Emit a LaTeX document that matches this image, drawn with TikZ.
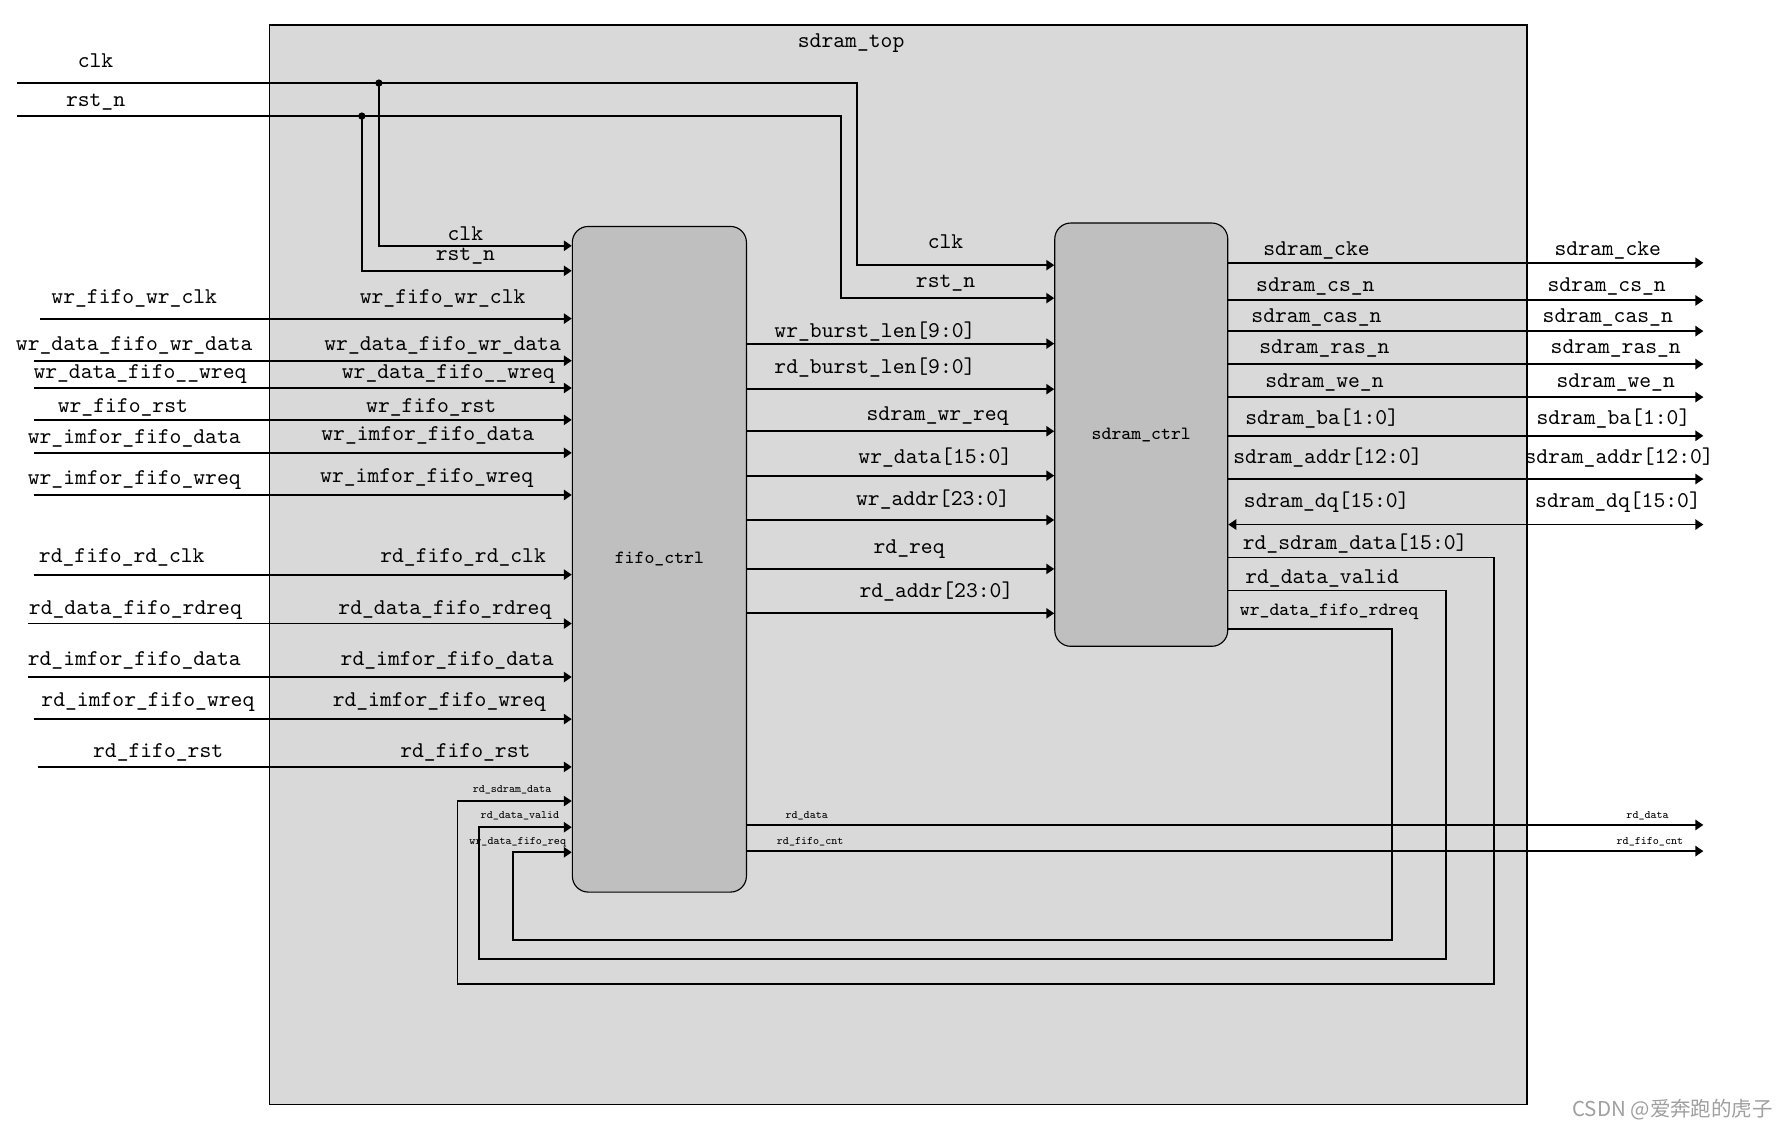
\documentclass[tikz,border=0pt]{standalone}
\usepackage{fontspec}
\newfontfamily\cjk{Noto Sans CJK SC}
\usetikzlibrary{arrows.meta}
\definecolor{topgray}{HTML}{D9D9D9}
\definecolor{blkgray}{HTML}{BFBFBF}
\begin{document}
\begin{tikzpicture}[
      x=0.5pt, y=-0.5pt,
      every node/.style={inner sep=0pt,font=\fontsize{9.9}{11}\selectfont\ttfamily},
      blk/.style={draw,line width=0.5pt,fill=blkgray,rounded corners=7pt},
      sig/.style={line width=0.8pt,-{Triangle[length=3.5pt,width=4.5pt]}},
      both/.style={line width=0.8pt,{Triangle[length=3.5pt,width=4.5pt]}-{Triangle[length=3.5pt,width=4.5pt]}},
      mid/.style={font=\fontsize{8.2}{9}\selectfont\ttfamily},
      tiny/.style={font=\fontsize{5}{6}\selectfont\ttfamily}
    ]
      \useasboundingbox (0,0) rectangle (1567,992);

      % Draw the boxes
      \node[draw,line width=0.5pt,fill=topgray,minimum width=552.5pt,minimum height=474.5pt] (top) at (789.5,496.5) {};
      \node (toplbl) at (748,38) {sdram\_top};
      \node[blk,mid,minimum width=76.5pt,minimum height=292.5pt] (fifo) at (579.5,491.5) {fifo\_ctrl};
      \node[blk,mid,minimum width=76pt,minimum height=186pt] (sdram) at (1003,382) {sdram\_ctrl};

      % Clock and reset
      \coordinate (clkin) at (15,73);
      \coordinate (clkdot) at (333,73);
      \coordinate (rstin) at (15,102);
      \coordinate (rstdot) at (318,102);
      \draw[sig] (clkin) -| (753,233) -- (sdram.west |- 0,233);
      \draw[sig] (clkdot) |- (fifo.west |- 0,216);
      \draw[sig] (rstin) -| (739,262) -- (sdram.west |- 0,262);
      \draw[sig] (rstdot) |- (fifo.west |- 0,238);
      \fill (clkdot) circle (1.6pt) (rstdot) circle (1.6pt);
      \node (clk0) at (84,53) {clk};
      \node (clk1) at (409,205) {clk};
      \node (clk2) at (831,212) {clk};
      \node (rst0) at (84,90) {rst\_n};
      \node (rst1) at (409,225) {rst\_n};
      \node (rst2) at (831,249) {rst\_n};

      % Inputs of fifo_ctrl
      \foreach \y/\xs/\lx/\ly/\ix/\iy/\txt [count=\i] in {
          280/35/118/262/389/262/wr\_fifo\_wr\_clk,
          317/30/118/304/389/304/wr\_data\_fifo\_wr\_data,
          341/30/123/329/394/329/wr\_data\_fifo\_\_wreq,
          369/30/108/358/379/358/wr\_fifo\_rst,
          398/30/118/385/376/383/wr\_imfor\_fifo\_data,
          435/30/118/422/375/420/wr\_imfor\_fifo\_wreq,
          505/30/107/490/407/490/rd\_fifo\_rd\_clk,
          548/25/119/536/391/536/rd\_data\_fifo\_rdreq,
          595/25/118/580/393/580/rd\_imfor\_fifo\_data,
          632/30/130/617/386/617/rd\_imfor\_fifo\_wreq,
          674/33/139/661/409/661/rd\_fifo\_rst}
      {
        \coordinate (in\i) at (\xs,\y);
        \draw[sig] (in\i) -- (fifo.west |- 0,\y);
        \node (inl\i) at (\lx,\ly) {\txt};
        \node (inr\i) at (\ix,\iy) {\txt};
      }

      % fifo_ctrl to sdram_ctrl
      \foreach \y/\lx/\ly/\txt [count=\i] in {
          302/769/291/wr\_burst\_len[9:0],
          342/769/323/rd\_burst\_len[9:0],
          379/824/366/sdram\_wr\_req,
          418/822/402/wr\_data[15:0],
          457/820/439/wr\_addr[23:0],
          500/799/483/rd\_req,
          539/823/520/rd\_addr[23:0]}
      {
        \draw[sig] (fifo.east |- 0,\y) -- (sdram.west |- 0,\y);
        \node (mid\i) at (\lx,\ly) {\txt};
      }

      % Outputs of sdram_ctrl
      \foreach \y/\lx/\rx/\ly/\txt [count=\i] in {
          231/1157/1413/220/sdram\_cke,
          264/1156/1412/252/sdram\_cs\_n,
          291/1157/1413/279/sdram\_cas\_n,
          320/1164/1420/306/sdram\_ras\_n,
          349/1164/1420/336/sdram\_we\_n,
          383/1162/1418/368/sdram\_ba[1:0],
          421/1167/1423/402/sdram\_addr[12:0]}
      {
        \coordinate (out\i) at (1497,\y);
        \draw[sig] (sdram.east |- 0,\y) -- (out\i);
        \node (outl\i) at (\lx,\ly) {\txt};
        \node (outr\i) at (\rx,\ly) {\txt};
      }
      \coordinate (dq) at (1497,461);
      \draw[both] (sdram.east |- 0,461) -- (dq);
      \node (dql) at (1166,441) {sdram\_dq[15:0]};
      \node (dqr) at (1422,441) {sdram\_dq[15:0]};

      % Loops back to fifo_ctrl
      \draw[sig] (sdram.east |- 0,490) -| (1313,865) -| (402,704) -- (fifo.west |- 0,704);
      \draw[sig] (sdram.east |- 0,519) -| (1271,843) -| (421,727) -- (fifo.west |- 0,727);
      \draw[sig] (sdram.east |- 0,553) -| (1223,826) -| (451,749) -- (fifo.west |- 0,749);
      \node (fb1) at (1191,478) {rd\_sdram\_data[15:0]};
      \node (fb2) at (1162,508) {rd\_data\_valid};
      \node[mid] (fb3) at (1168,538) {wr\_data\_fifo\_rdreq};
      \node[tiny] (fb1s) at (450,694) {rd\_sdram\_data};
      \node[tiny] (fb2s) at (457,717) {rd\_data\_valid};
      \node[tiny] (fb3s) at (455,740) {wr\_data\_fifo\_req};

      % Outputs of fifo_ctrl
      \coordinate (rdout) at (1497,725);
      \coordinate (cntout) at (1497,748);
      \draw[sig] (fifo.east |- 0,725) -- (rdout);
      \draw[sig] (fifo.east |- 0,748) -- (cntout);
      \node[tiny] (rd1) at (709,717) {rd\_data};
      \node[tiny] (rd2) at (1448,717) {rd\_data};
      \node[tiny] (cnt1) at (712,740) {rd\_fifo\_cnt};
      \node[tiny] (cnt2) at (1450,740) {rd\_fifo\_cnt};

      \node[font=\fontsize{9}{10}\selectfont\cjk,text=gray!75] (mark) at (1470,975) {CSDN @爱奔跑的虎子};
    \end{tikzpicture}
\end{document}
